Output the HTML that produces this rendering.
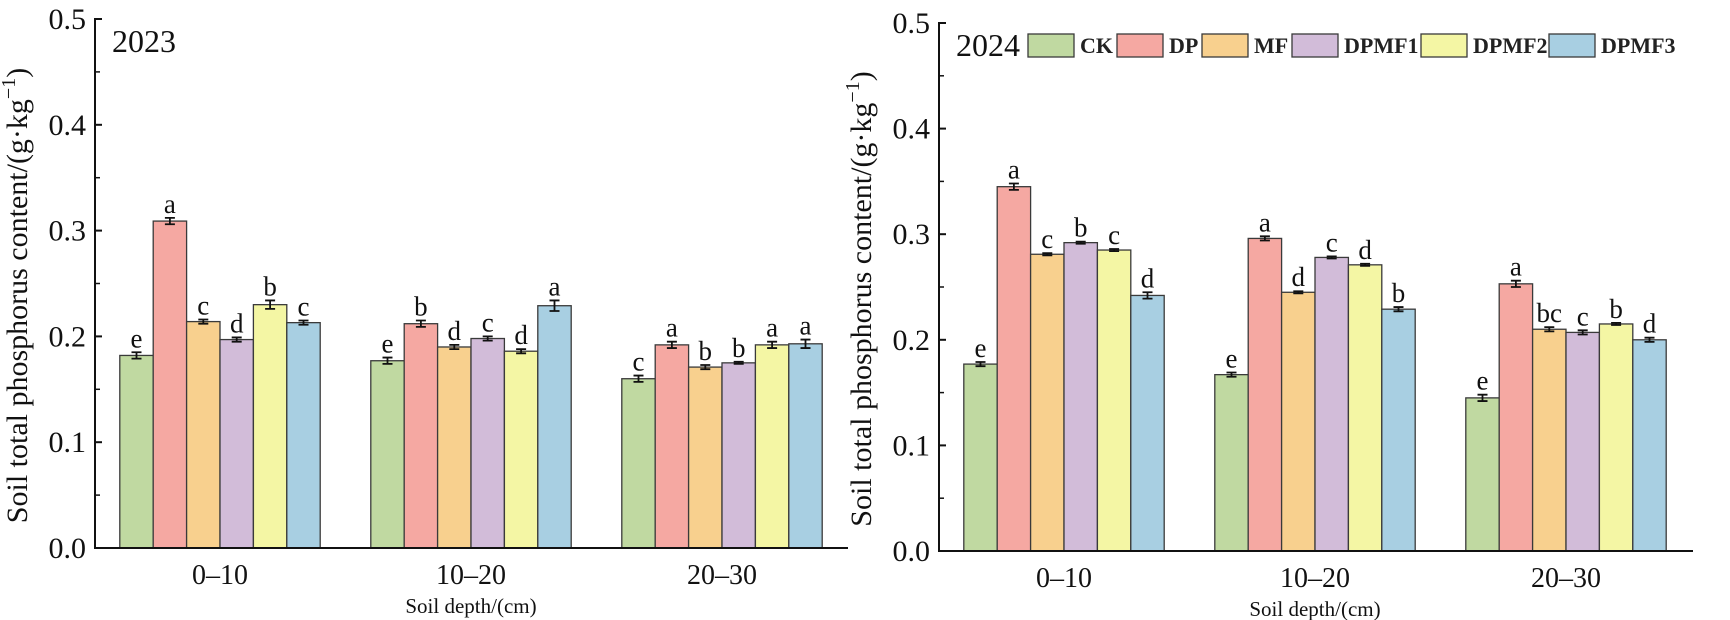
<!DOCTYPE html>
<html><head><meta charset="utf-8"><style>
html,body{margin:0;padding:0;background:#fff;}
svg{display:block;}
svg text{font-family:"Liberation Serif","Times New Roman",serif;}
</style></head><body>
<svg id="chart" width="1730" height="620" viewBox="0 0 1730 620"></svg>
<script>
const categories = ["0–10","10–20","20–30"];
const seriesNames = ["CK","DP","MF","DPMF1","DPMF2","DPMF3"];
const colors = ["#c0d9a1","#f5a8a2","#f8d08e","#d2bcd9","#f4f6a4","#a8cfe2"];
const yTicks = [0.0,0.1,0.2,0.3,0.4,0.5];
const yTickLabels = ["0.0","0.1","0.2","0.3","0.4","0.5"];
const values2023 = [[0.182,0.309,0.214,0.197,0.230,0.213],[0.177,0.212,0.190,0.198,0.186,0.229],[0.160,0.192,0.171,0.175,0.192,0.193]];
const errors2023 = [[0.003,0.003,0.002,0.002,0.004,0.002],[0.003,0.003,0.002,0.002,0.002,0.005],[0.003,0.003,0.002,0.001,0.003,0.004]];
const letters2023 = [["e","a","c","d","b","c"],["e","b","d","c","d","a"],["c","a","b","b","a","a"]];
const values2024 = [[0.177,0.345,0.281,0.292,0.285,0.242],[0.167,0.296,0.245,0.278,0.271,0.229],[0.145,0.253,0.210,0.207,0.215,0.200]];
const errors2024 = [[0.002,0.003,0.001,0.001,0.001,0.003],[0.002,0.002,0.001,0.001,0.001,0.002],[0.003,0.003,0.002,0.002,0.001,0.002]];
const letters2024 = [["e","a","c","b","c","d"],["e","a","d","c","d","b"],["e","a","bc","c","b","d"]];

const NS="http://www.w3.org/2000/svg";
const svg=document.getElementById('chart');
function mk(tag,attrs,parent){const e=document.createElementNS(NS,tag);for(const k in attrs)e.setAttribute(k,attrs[k]);(parent||svg).appendChild(e);return e;}

function panel(p){
  const g=mk('g',{});
  
  
  const yS=v=>p.y0-(v/0.5)*(p.y0-p.y5);
  const bw=33.4, groupOff=[125,376,627];
  const xS=(ci,si)=>p.x0+groupOff[ci]-3*bw+si*bw;
  p.values.forEach((row,ci)=>{
    row.forEach((v,si)=>{
      const r=mk('rect',{x:xS(ci,si),y:yS(v),width:bw,height:p.y0-yS(v),fill:colors[si],stroke:"#3a3a3a","stroke-width":1.3},g);
      
      
      const cx=xS(ci,si)+bw/2, e=p.errors[ci][si];
      const eb=mk('path',{d:`M${cx},${yS(v+e)}V${yS(v-e)}M${cx-5},${yS(v+e)}H${cx+5}M${cx-5},${yS(v-e)}H${cx+5}`,stroke:"#111","stroke-width":1.8,fill:"none"},g);
      
      
      const t=mk('text',{x:cx,y:yS(v+e)-5,"text-anchor":"middle","font-size":27,fill:"#111"},g);
      t.textContent=p.letters[ci][si];
      
      
    });
    const xl=mk('text',{x:p.x0+groupOff[ci],y:p.y0+36,"text-anchor":"middle","font-size":28,fill:"#111"},g);
    xl.textContent=categories[ci];
    
    
  });
  const ax=mk('path',{d:`M${p.x0+6},${p.y5}H${p.x0}V${p.y0}H${p.x1}`,stroke:"#111","stroke-width":2,fill:"none"},g);
  
  
  yTicks.forEach((v,i)=>{
    mk('line',{x1:p.x0,x2:p.x0+7,y1:yS(v),y2:yS(v),stroke:"#111","stroke-width":2},g);
    if(i<5) mk('line',{x1:p.x0,x2:p.x0+5,y1:yS(v+0.05),y2:yS(v+0.05),stroke:"#111","stroke-width":1.5},g);
    const t=mk('text',{x:p.x0-9,y:yS(v)+10,"text-anchor":"end","font-size":30,fill:"#111"},g);
    t.textContent=yTickLabels[i];
    
    
  });
  const xt=mk('text',{x:p.x0+376,y:p.y0+65,"text-anchor":"middle","font-size":21,fill:"#111"},g);
  xt.textContent="Soil depth/(cm)";
  
  
  const yt=mk('text',{x:0,y:0,"text-anchor":"middle","font-size":30,fill:"#111",transform:`translate(${p.x0-68},${(p.y0+p.y5)/2+12}) rotate(-90)`},g);
  yt.innerHTML='Soil total phosphorus content/(g·kg<tspan dy="-12" font-size="20">−1</tspan><tspan dy="12">)</tspan>';
  
  
  const yr=mk('text',{x:p.x0+17,y:p.y5+33,"font-size":32,fill:"#111"},g);
  yr.textContent=p.year;
  
  
}
panel({name:'panel-2023',x0:95,x1:848,y0:548,y5:19,values:values2023,errors:errors2023,letters:letters2023,year:"2023"});
panel({name:'panel-2024',x0:939,x1:1693,y0:551,y5:23,values:values2024,errors:errors2024,letters:letters2024,year:"2024"});

const legX=[1028,1117,1202,1292,1421,1549];
const lg=mk('g',{});


seriesNames.forEach((n,i)=>{
  const r=mk('rect',{x:legX[i],y:34,width:46,height:23,fill:colors[i],stroke:"#3a3a3a","stroke-width":1.3},lg);
  
  
  const t=mk('text',{x:legX[i]+52,y:53,"font-size":22,"font-weight":"bold",fill:"#222"},lg);
  t.textContent=n;
  
  
});
</script>
</body></html>
